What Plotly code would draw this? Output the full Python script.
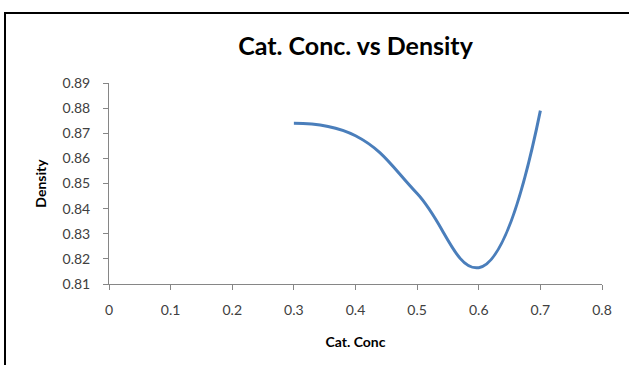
import plotly.graph_objects as go

cat_conc = [0.3, 0.4, 0.5, 0.6, 0.7]
density = [0.874, 0.869, 0.846, 0.8165, 0.879]
x_ticks = [0, 0.1, 0.2, 0.3, 0.4, 0.5, 0.6, 0.7, 0.8]
y_ticks = [0.81, 0.82, 0.83, 0.84, 0.85, 0.86, 0.87, 0.88, 0.89]

W, H = 629, 365
L, R, T, B = 109, 27, 83, 81
pw, ph = W - L - R, H - T - B

def px(xp):
    return (xp - L) / pw

def py(yp):
    return (H - B - yp) / ph

fig = go.Figure()
fig.add_trace(go.Scatter(
    x=cat_conc, y=density, mode="lines",
    line=dict(color="#4A7EBB", width=3, shape="spline", smoothing=1.25),
    showlegend=False, hoverinfo="x+y"))

axis_font = dict(family="Lato, Open Sans, sans-serif", size=14, color="#404040")
fig.update_layout(
    width=W, height=H,
    margin=dict(l=L, r=R, t=T, b=B),
    paper_bgcolor="white", plot_bgcolor="white",
    title=dict(text="<b>Cat. Conc. vs Density</b>", x=0.5, xref="paper",
               xanchor="center", y=1 - 46 / H, yanchor="middle",
               font=dict(family="Lato, Open Sans, sans-serif", size=25, color="black")),
    xaxis=dict(range=[0, 0.8], tickvals=x_ticks, ticktext=[f"{v:g}" for v in x_ticks],
               showgrid=False, zeroline=False, showline=True, linecolor="#868686", linewidth=1,
               ticks="outside", ticklen=5, tickcolor="#868686", tickfont=axis_font,
               ticklabelstandoff=8,
               title=dict(text="<b>Cat. Conc</b>", standoff=20,
                          font=dict(family="Lato, Open Sans, sans-serif", size=14, color="black"))),
    yaxis=dict(range=[0.81, 0.89], tickvals=y_ticks, ticktext=[f"{v:.2f}" for v in y_ticks],
               showgrid=False, zeroline=False, showline=True, linecolor="#868686", linewidth=1,
               ticks="outside", ticklen=5, tickcolor="#868686", tickfont=axis_font,
               ticklabelstandoff=10,
               title=dict(text="<b>Density</b>", standoff=12,
                          font=dict(family="Lato, Open Sans, sans-serif", size=14, color="black"))),
    shapes=[
        dict(type="line", xref="paper", yref="paper", x0=px(5), x1=px(5), y0=py(370), y1=py(13),
             line=dict(color="black", width=2)),
        dict(type="line", xref="paper", yref="paper", x0=px(4), x1=px(640), y0=py(13), y1=py(13),
             line=dict(color="black", width=2)),
    ],
)

fig.write_html("out.html")
